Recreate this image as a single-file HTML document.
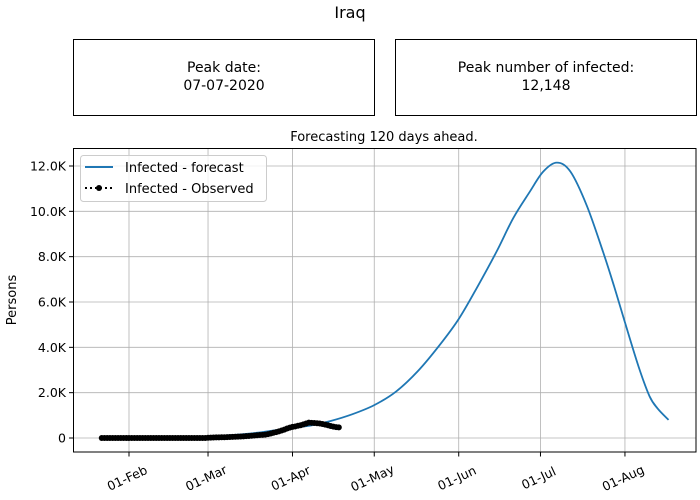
<!DOCTYPE html>
<html><head><meta charset="utf-8">
<style>
body{margin:0;background:#fff;}
svg{display:block;font-family:"DejaVu Sans","Liberation Sans",sans-serif;}
</style></head>
<body>
<svg id="chart" width="700" height="500" viewBox="0 0 700 500">
<rect width="700" height="500" fill="#fff"/>
<text x="350" y="18" text-anchor="middle" font-size="16">Iraq</text>
<g>
<rect x="73.5" y="39.5" width="301" height="76" fill="#fff" stroke="#000"/>
<text x="224" y="72" text-anchor="middle" font-size="14">Peak date:</text>
<text x="224" y="90" text-anchor="middle" font-size="14">07-07-2020</text>
</g>
<g>
<rect x="395.5" y="39.5" width="301" height="76" fill="#fff" stroke="#000"/>
<text x="546" y="72" text-anchor="middle" font-size="14">Peak number of infected:</text>
<text x="546" y="90" text-anchor="middle" font-size="14">12,148</text>
</g>
<text x="384" y="141" text-anchor="middle" font-size="13">Forecasting 120 days ahead.</text>
<text transform="translate(16,300) rotate(-90)" text-anchor="middle" font-size="13">Persons</text>
<g id="grid"></g>
<g id="series"></g>
<rect x="73.5" y="148.5" width="622.5" height="303.5" fill="none" stroke="#000"/>
<g id="axes"></g>
<g>
<rect x="80.5" y="155.5" width="186" height="46" rx="3" fill="#fff" fill-opacity="0.8" stroke="#ccc"/>
<line x1="85" y1="167" x2="113" y2="167" stroke="#1f77b4" stroke-width="2"/>
<text x="125" y="172" font-size="13">Infected - forecast</text>
<line x1="85" y1="188" x2="113" y2="188" stroke="#000" stroke-width="2" stroke-dasharray="2,3"/>
<circle cx="99" cy="188" r="3" fill="#000"/>
<text x="125" y="193" font-size="13">Infected - Observed</text>
</g>
</svg>
<script>
const yTicks=[0,2000,4000,6000,8000,10000,12000];
const yTickLabels=["0","2.0K","4.0K","6.0K","8.0K","10.0K","12.0K"];
const xTickDays=[31,60,91,121,152,182,213];
const xTickLabels=["01-Feb","01-Mar","01-Apr","01-May","01-Jun","01-Jul","01-Aug"];
const forecastDays=[21,31,45,60,75,91,98,105,113,121,129,137,145,152,159,166,172,178,183,188,193,199,205,209,213,218,222,225,229];
const forecastValues=[0,10,25,70,190,450,560,750,1050,1450,2050,2950,4100,5250,6700,8250,9700,10850,11750,12148,11750,10250,8200,6700,5100,3150,1850,1300,800];
const observedStartDay=21;
const observedValues=[0,0,0,0,0,0,0,0,0,0,0,0,0,0,0,0,0,0,0,0,0,0,0,0,0,0,0,0,0,0,0,0,0,0,0,0,0,0,0,
10,15,20,25,30,35,35,40,45,50,55,60,65,70,80,90,100,110,120,130,140,150,170,200,230,260,290,330,370,420,460,490,510,540,560,600,640,680,670,660,650,640,620,590,560,530,500,480,470];

const NS="http://www.w3.org/2000/svg";
const X=d=>129+(d-31)*2.725;
const Y=v=>438-v*272/12000;
function mk(tag,attrs,parent){const e=document.createElementNS(NS,tag);for(const k in attrs)e.setAttribute(k,attrs[k]);parent.appendChild(e);return e;}
const grid=document.getElementById('grid'),axes=document.getElementById('axes'),series=document.getElementById('series');
yTicks.forEach((v,i)=>{
  const y=Y(v);
  const g=mk('line',{x1:73.5,x2:696,y1:y,y2:y,stroke:'#b0b0b0','stroke-width':0.8},grid);
  
  
  mk('line',{x1:69,x2:73.5,y1:y,y2:y,stroke:'#000'},axes);
  const t=mk('text',{x:66,y:y+4.5,'text-anchor':'end','font-size':12.5},axes);
  t.textContent=yTickLabels[i];
  
  
});
xTickDays.forEach((d,i)=>{
  const x=X(d);
  const g=mk('line',{x1:x,x2:x,y1:148.5,y2:452,stroke:'#b0b0b0','stroke-width':0.8},grid);
  
  
  mk('line',{x1:x,x2:x,y1:452,y2:456.5,stroke:'#000'},axes);
  const t=mk('text',{transform:`translate(${x},${482}) rotate(-25)`,'text-anchor':'middle','font-size':12.5},axes);
  t.textContent=xTickLabels[i];
  
  
});
const pts=forecastDays.map((d,i)=>[X(d),Y(forecastValues[i])]);
let dstr=`M${pts[0][0]},${pts[0][1]}`;
for(let i=0;i<pts.length-1;i++){
  const p0=pts[Math.max(0,i-1)],p1=pts[i],p2=pts[i+1],p3=pts[Math.min(pts.length-1,i+2)];
  const c1=[p1[0]+(p2[0]-p0[0])/6,p1[1]+(p2[1]-p0[1])/6];
  const c2=[p2[0]-(p3[0]-p1[0])/6,p2[1]-(p3[1]-p1[1])/6];
  dstr+=` C${c1[0]},${c1[1]} ${c2[0]},${c2[1]} ${p2[0]},${p2[1]}`;
}
const fl=mk('path',{d:dstr,fill:'none',stroke:'#1f77b4','stroke-width':1.8},series);


const op=observedValues.map((v,i)=>`${X(observedStartDay+i)},${Y(v)}`).join(' ');
const ol=mk('polyline',{points:op,fill:'none',stroke:'#000','stroke-width':1.5,'stroke-dasharray':'2,2'},series);


observedValues.forEach((v,i)=>{
  const c=mk('circle',{cx:X(observedStartDay+i),cy:Y(v),r:3,fill:'#000'},series);
  
  
});
</script>
</body></html>
